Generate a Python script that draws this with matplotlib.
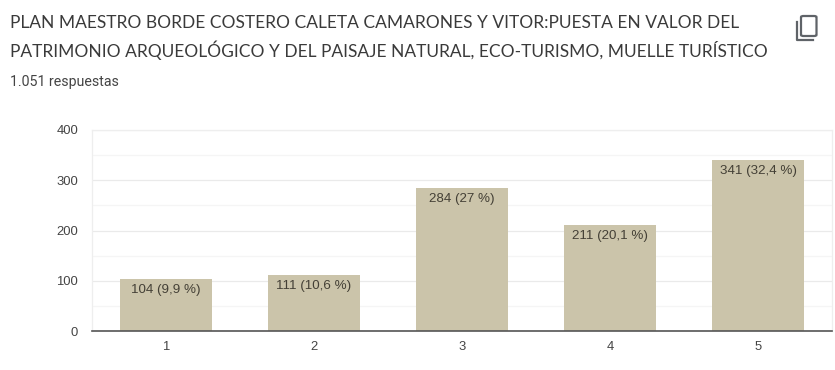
import matplotlib
matplotlib.use("Agg")
import matplotlib.pyplot as plt
from matplotlib.patches import FancyBboxPatch
from matplotlib.lines import Line2D

categories = ["1", "2", "3", "4", "5"]
counts = [104, 111, 284, 211, 341]
labels = ["104 (9,9 %)", "111 (10,6 %)", "284 (27 %)", "211 (20,1 %)", "341 (32,4 %)"]
y_ticks = [0, 100, 200, 300, 400]
y_minor = [50, 150, 250, 350]
title_lines = [
    "PLAN MAESTRO BORDE COSTERO CALETA CAMARONES Y VITOR:PUESTA EN VALOR DEL",
    "PATRIMONIO ARQUEOLÓGICO Y DEL PAISAJE NATURAL, ECO-TURISMO, MUELLE TURÍSTICO",
]
subtitle = "1.051 respuestas"

W, H = 835, 370
plt.rcParams["font.family"] = "Liberation Sans"

fig = plt.figure(figsize=(W / 100, H / 100), dpi=100)
ax = fig.add_axes([92 / W, 1 - 331 / H, 740 / W, 201 / H])

x = range(len(categories))
ax.bar(x, counts, width=0.615, color="#cbc4aa", zorder=3)
for i, lab in enumerate(labels):
    ax.annotate(lab, (i, counts[i]), xytext=(0, -3.6), textcoords="offset points",
                ha="center", va="top", fontsize=9.6, color="#444036", zorder=4)

ax.set_xlim(-0.5, 4.5)
ax.set_ylim(0, 400)
ax.set_xticks(list(x), categories)
ax.set_yticks(y_ticks)
ax.set_yticks(y_minor, minor=True)
ax.grid(axis="y", which="major", color="#eaeaea", lw=0.9, zorder=0)
ax.grid(axis="y", which="minor", color="#f5f5f5", lw=0.9, zorder=0)
ax.tick_params(axis="both", which="both", length=0)
ax.tick_params(axis="x", labelsize=9.4, labelcolor="#444444", pad=7)
ax.tick_params(axis="y", labelsize=9.4, labelcolor="#444444", pad=10)
for side in ["top", "left", "right"]:
    ax.spines[side].set_color("#eeeeee")
    ax.spines[side].set_linewidth(0.9)
ax.spines["bottom"].set_color("#555555")
ax.spines["bottom"].set_linewidth(1.2)
ax.spines["bottom"].set_zorder(5)

fig.text(10 / W, 1 - 23.5 / H, title_lines[0], fontsize=12.55, color="#3a3a3a",
         family="Lato", va="center")
fig.text(10 / W, 1 - 50 / H, title_lines[1], fontsize=12.55, color="#3a3a3a",
         family="Lato", va="center")
fig.text(10 / W, 1 - 82 / H, subtitle, fontsize=10.2, color="#444444",
         family="Roboto", va="center")

# copy icon, top right
fig.add_artist(FancyBboxPatch((801 / W, 1 - 36 / H), 15.5 / W, 20 / H,
                              boxstyle="round,pad=0,rounding_size=0.003",
                              transform=fig.transFigure, fill=False,
                              ec="#5f6368", lw=1.6))
fig.add_artist(Line2D([796.5 / W, 796.5 / W, 813 / W], [1 - 22 / H, 1 - 39.5 / H, 1 - 39.5 / H],
                      transform=fig.transFigure, color="#5f6368", lw=1.6))

fig.savefig("out.png", dpi=100)
